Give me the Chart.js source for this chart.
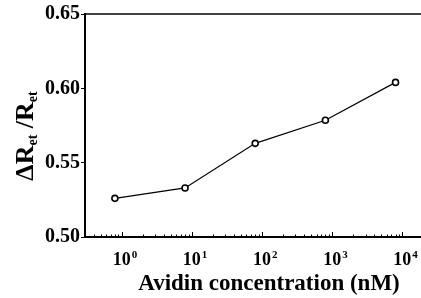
<!DOCTYPE html>
<html><head><meta charset="utf-8">
<script src="https://cdn.jsdelivr.net/npm/chart.js@4.4.1/dist/chart.umd.min.js"></script>
<style>html,body{margin:0;padding:0;background:#fff}#w{width:421px;height:298px}</style>
</head><body><div id="w"><canvas id="c"></canvas></div>
<script>
const concentrations = [0.8, 8, 80, 800, 8000];
const ratioValues = [0.526, 0.533, 0.563, 0.5785, 0.604];
const yTickValues = [0.50, 0.55, 0.60, 0.65];
const xDecades = [1, 10, 100, 1000, 10000];
const xTitle = 'Avidin concentration (nM)';
const FONT = '"Liberation Serif", "Times New Roman", serif';

const decor = {
  id: 'decor',
  afterDraw(chart) {
    const ctx = chart.ctx, ca = chart.chartArea, xs = chart.scales.x;
    ctx.save();
    ctx.strokeStyle = '#000';
    ctx.fillStyle = '#000';
    // top frame line
    ctx.lineWidth = 1.5;
    ctx.beginPath(); ctx.moveTo(ca.left, ca.top); ctx.lineTo(ca.right, ca.top); ctx.stroke();
    // inward x ticks
    ctx.lineWidth = 1;
    for (let e = -1; e <= 4; e++) {
      for (let m = 1; m <= 9; m++) {
        const v = m * Math.pow(10, e);
        if (v < xs.min || v > xs.max) continue;
        const px = Math.round(xs.getPixelForValue(v)) + 0.5;
        const len = m === 1 ? 5 : 2.5;
        ctx.beginPath(); ctx.moveTo(px, ca.bottom); ctx.lineTo(px, ca.bottom - len); ctx.stroke();
      }
    }
    // x tick labels 10^n
    ctx.textBaseline = 'alphabetic';
    xDecades.forEach(v => {
      const px = xs.getPixelForValue(v);
      const exp = String(Math.round(Math.log10(v)));
      ctx.font = 'bold 18px ' + FONT;
      ctx.textAlign = 'center';
      ctx.fillText('10', px, ca.bottom + 28);
      const w = ctx.measureText('10').width;
      ctx.font = 'bold 11px ' + FONT;
      ctx.textAlign = 'left';
      ctx.fillText(exp, px + w / 2 + 1, ca.bottom + 21);
    });
    // x title
    ctx.font = 'bold 23px ' + FONT;
    ctx.textAlign = 'center';
    ctx.fillText(xTitle, 269, 290);
    // y title with subscripts
    ctx.translate(33, 136);
    ctx.rotate(-Math.PI / 2);
    ctx.textAlign = 'left';
    const big = 'bold 26px ' + FONT, small = 'bold 14px ' + FONT;
    const parts = [['ΔR', big, 0], ['et', small, 4], [' /R', big, 0], ['et', small, 4]];
    let total = 0;
    parts.forEach(p => { ctx.font = p[1]; total += ctx.measureText(p[0]).width; });
    let x = -total / 2;
    parts.forEach(p => { ctx.font = p[1]; ctx.fillText(p[0], x, p[2]); x += ctx.measureText(p[0]).width; });
    ctx.restore();
  }
};

new Chart(document.getElementById('c'), {
  type: 'line',
  data: {
    datasets: [{
      data: concentrations.map((c, i) => ({x: c, y: ratioValues[i]})),
      borderColor: '#000', borderWidth: 1.2,
      pointRadius: 3, pointBorderWidth: 1.6,
      pointBackgroundColor: '#fff', pointBorderColor: '#000',
      tension: 0
    }]
  },
  options: {
    responsive: true, maintainAspectRatio: false, animation: false,
    layout: {autoPadding: false, padding: {top: 14, right: 0, bottom: 0, left: 0}},
    plugins: {legend: {display: false}, tooltip: {enabled: false}},
    scales: {
      x: {
        type: 'logarithmic', min: 0.329, max: 18450,
        afterFit(s) { s.height = 61; },
        grid: {display: false},
        border: {display: true, color: '#000', width: 2},
        ticks: {display: false},
        afterBuildTicks(s) { s.ticks = xDecades.map(v => ({value: v})); }
      },
      y: {
        min: 0.5, max: 0.65,
        afterFit(s) { s.width = 85; },
        afterBuildTicks(s) { s.ticks = yTickValues.map(v => ({value: v})); },
        grid: {display: true, drawOnChartArea: false, tickLength: 4, color: '#000', lineWidth: 1},
        border: {display: true, color: '#000', width: 2},
        ticks: {color: '#000', padding: 1, font: {family: FONT, weight: 'bold', size: 20},
          callback(v) { return Number(v).toFixed(2); }}
      }
    }
  },
  plugins: [decor]
});
</script></body></html>
